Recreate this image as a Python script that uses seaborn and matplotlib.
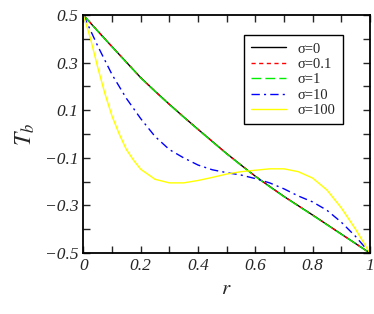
import matplotlib
matplotlib.use("Agg")
import matplotlib.pyplot as plt
import seaborn as sns
from matplotlib.ticker import MultipleLocator

# data
r_grid = [0.0, 0.05, 0.1, 0.15, 0.2, 0.25, 0.3, 0.35, 0.4, 0.45, 0.5,
          0.55, 0.6, 0.65, 0.7, 0.75, 0.8, 0.85, 0.9, 0.95, 1.0]
tb_sigma0 = [0.5, 0.433, 0.367, 0.302, 0.237, 0.18, 0.125, 0.072, 0.02, -0.031, -0.082,
             -0.13, -0.177, -0.22, -0.262, -0.301, -0.34, -0.38, -0.42, -0.46, -0.5]
tb_sigma01 = [0.5, 0.433, 0.367, 0.302, 0.237, 0.18, 0.125, 0.072, 0.02, -0.031, -0.082,
              -0.13, -0.177, -0.22, -0.262, -0.301, -0.34, -0.38, -0.42, -0.46, -0.5]
tb_sigma1 = [0.5, 0.432, 0.366, 0.301, 0.236, 0.179, 0.124, 0.071, 0.019, -0.032, -0.083,
             -0.131, -0.178, -0.221, -0.263, -0.302, -0.341, -0.381, -0.421, -0.46, -0.5]
tb_sigma10 = [0.5, 0.37, 0.25, 0.15, 0.065, -0.01, -0.065, -0.10, -0.13, -0.15, -0.162,
              -0.172, -0.187, -0.205, -0.23, -0.26, -0.285, -0.32, -0.37, -0.43, -0.5]

r_fine = [0.0, 0.025, 0.05, 0.075, 0.1, 0.125, 0.15, 0.175, 0.2, 0.25, 0.3, 0.35, 0.4,
          0.45, 0.5, 0.55, 0.6, 0.65, 0.7, 0.75, 0.8, 0.85, 0.9, 0.95, 1.0]
tb_sigma100 = [0.5, 0.40, 0.28, 0.17, 0.075, 0.0, -0.065, -0.11, -0.148, -0.19, -0.205,
               -0.205, -0.195, -0.182, -0.168, -0.158, -0.152, -0.146, -0.146, -0.158,
               -0.185, -0.235, -0.31, -0.40, -0.5]

labels = ["σ=0", "σ=0.1", "σ=1", "σ=10", "σ=100"]

sns.set_style("ticks")
plt.rcParams['font.family'] = ['Liberation Serif', 'DejaVu Serif']
plt.rcParams['mathtext.fontset'] = 'stix'

fig = plt.figure(figsize=(3.74, 3.14), dpi=100)
ax = fig.add_axes([0.223, 0.194, 0.766, 0.758])

sns.lineplot(x=r_grid, y=tb_sigma0, ax=ax, color="black", lw=1, label=labels[0])
sns.lineplot(x=r_grid, y=tb_sigma01, ax=ax, color="red", lw=1,
             linestyle=(0, (3, 2.5)), label=labels[1])
sns.lineplot(x=r_grid, y=tb_sigma1, ax=ax, color="#00ee00", lw=1,
             linestyle=(0, (7, 3)), label=labels[2])
sns.lineplot(x=r_grid, y=tb_sigma10, ax=ax, color="blue", lw=1,
             linestyle=(0, (6, 3, 1.5, 3)), label=labels[3])
sns.lineplot(x=r_fine, y=tb_sigma100, ax=ax, color="#ffff00", lw=1, label=labels[4])

ax.set_xlim(0, 1)
ax.set_ylim(-0.5, 0.5)
ax.set_xticks([0, 0.2, 0.4, 0.6, 0.8, 1.0])
ax.set_xticks([0.1, 0.3, 0.5, 0.7, 0.9], minor=True)
ax.set_xticklabels(["0", "0.2", "0.4", "0.6", "0.8", "1"])
ax.set_yticks([0.5, 0.3, 0.1, -0.1, -0.3, -0.5])
ax.set_yticks([0.4, 0.2, 0.0, -0.2, -0.4], minor=True)
ax.set_yticklabels(["0.5", "0.3", "0.1", "\u22120.1", "\u22120.3", "\u22120.5"])

ax.tick_params(which="both", direction="in", top=True, right=True, width=1,
               labelsize=12.5, length=5)
for lab in ax.get_xticklabels() + ax.get_yticklabels():
    lab.set_style("italic")
for s in ax.spines.values():
    s.set_linewidth(1.3)
    s.set_color("black")

ax.set_xlabel("$r$", fontsize=15, labelpad=4)
ax.set_ylabel("$T_b$", fontsize=17, labelpad=6)

leg = ax.legend(loc="upper right", bbox_to_anchor=(0.906, 0.916), borderaxespad=0,
                fancybox=False, framealpha=1, edgecolor="black", fontsize=10.5,
                handlelength=2.4, labelspacing=0.15, borderpad=0.5)
leg.get_frame().set_linewidth(1.0)

fig.savefig("out.png", dpi=100)
